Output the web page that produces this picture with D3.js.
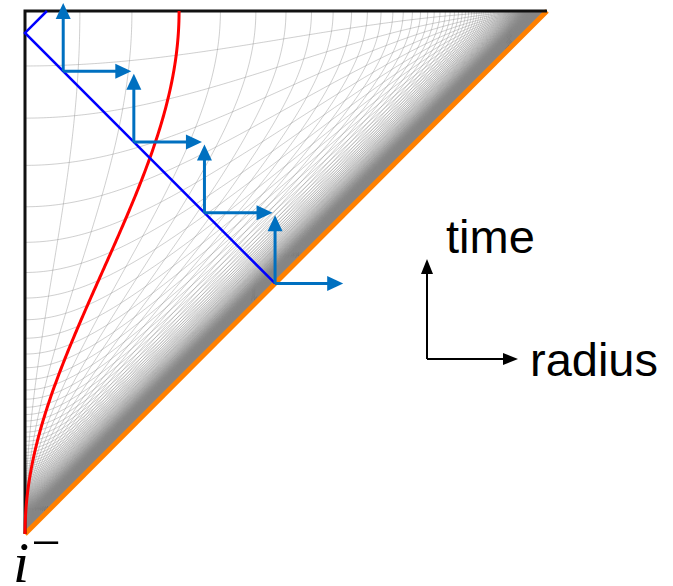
<!DOCTYPE html>
<head>
  <meta charset="utf-8" />
  <script src="https://d3js.org/d3.v7.min.js"></script>
  <style>
    body {
      margin: 0;
      background: #fff;
    }
  </style>
</head>

<body>
  <script>
    var width = 673,
      height = 586;

    // grid of conformal time eta (< 0) and comoving radius r
    const gridStep = 1 / 6;
    const gridCount = 360;
    // red comoving worldline
    const worldlineR = 0.5;
    // blue light ray: reaches r = 0 at this eta
    const rayEta = -0.066;
    // local frames along the ray (Penrose R of each corner) and arrow length
    const frameR = [0.23, 0.655, 1.08, 1.505];
    const frameLen = 0.41;
    const legendLabels = ["time", "radius"];

    var svg = d3
      .select("body")
      .append("svg")
      .attr("width", width)
      .attr("height", height);

    var x = d3.scaleLinear().domain([0, Math.PI]).range([25, 547]);
    var y = d3.scaleLinear().domain([-Math.PI, 0]).range([534, 11]);

    var line = d3
      .line()
      .x((d) => x(d[0]))
      .y((d) => y(d[1]));

    // null coords -> Penrose (R, T)
    function fromUV(U, V) {
      return [V - U, V + U];
    }

    var nSamples = 200;

    // curve of constant r, from i- up to eta = 0
    function rCurve(r) {
      var pts = [[0, -Math.PI]];
      var vTop = Math.atan(r);
      for (var i = 1; i <= nSamples; i++) {
        var V = -Math.PI / 2 + (i / nSamples) * (vTop + Math.PI / 2);
        var u = Math.tan(V) - 2 * r;
        pts.push(fromUV(Math.atan(u), V));
      }
      return pts;
    }

    // curve of constant eta, from r = 0 out to i0
    function etaCurve(eta) {
      var pts = [];
      var v0 = Math.atan(eta);
      for (var i = 0; i < nSamples; i++) {
        var V = v0 + (i / nSamples) * (Math.PI / 2 - v0);
        var u = 2 * eta - Math.tan(V);
        pts.push(fromUV(Math.atan(u), V));
      }
      pts.push([Math.PI, 0]);
      return pts;
    }

    var levels = d3.range(1, gridCount + 1).map((k) => k * gridStep);

    var grid = svg
      .append("g")
      .attr("fill", "none")
      .attr("stroke", "#878787")
      .attr("stroke-width", 0.4);

    grid
      .selectAll(".rline")
      .data(levels)
      .join("path")
      .attr("class", "rline")
      .attr("d", (d) => line(rCurve(d)));

    grid
      .selectAll(".tline")
      .data(levels)
      .join("path")
      .attr("class", "tline")
      .attr("d", (d) => line(etaCurve(-d)));

    // past boundary
    svg
      .append("path")
      .attr("d", line([[0, -Math.PI], [Math.PI, 0]]))
      .attr("stroke", "#ff8000")
      .attr("stroke-width", 5)
      .attr("fill", "none");

    // r = 0 and future boundary
    svg
      .append("path")
      .attr("d", line([[Math.PI, 0], [0, 0], [0, -Math.PI]]))
      .attr("stroke", "#111")
      .attr("stroke-width", 3)
      .attr("fill", "none");

    // comoving worldline
    svg
      .append("path")
      .attr("d", line(rCurve(worldlineR)))
      .attr("stroke", "#ff0000")
      .attr("stroke-width", 3)
      .attr("fill", "none");

    // light ray: ingoing from the past boundary, bouncing at r = 0
    var a = Math.atan(rayEta);
    var ray = [
      [Math.PI / 2 + a, a - Math.PI / 2],
      [0, 2 * a],
      [-2 * a, 0]
    ];
    svg
      .append("path")
      .attr("d", line(ray))
      .attr("stroke", "#0000ff")
      .attr("stroke-width", 2.5)
      .attr("fill", "none");

    function arrow(g, x1, y1, x2, y2, color, w, headLen, headW) {
      var dx = x2 - x1,
        dy = y2 - y1,
        len = Math.sqrt(dx * dx + dy * dy);
      var ux = dx / len,
        uy = dy / len;
      var bx = x2 - ux * headLen,
        by = y2 - uy * headLen;
      g.append("line")
        .attr("x1", x1)
        .attr("y1", y1)
        .attr("x2", bx + ux)
        .attr("y2", by + uy)
        .attr("stroke", color)
        .attr("stroke-width", w);
      g.append("path")
        .attr(
          "d",
          "M" + x2 + "," + y2 +
            "L" + (bx - uy * headW / 2) + "," + (by + ux * headW / 2) +
            "L" + (bx + uy * headW / 2) + "," + (by - ux * headW / 2) + "Z"
        )
        .attr("fill", color);
    }

    // local time / radius frames along the ray
    var frames = svg.append("g");
    frameR.forEach(function (R) {
      var T = 2 * a - R;
      arrow(frames, x(R), y(T), x(R), y(T + frameLen), "#0070c0", 3, 16, 15);
      arrow(frames, x(R), y(T), x(R + frameLen), y(T), "#0070c0", 3, 16, 15);
    });

    // legend
    var legend = svg.append("g");
    arrow(legend, 427, 359, 427, 259, "#000", 2, 15, 12);
    arrow(legend, 427, 359, 518, 359, "#000", 2, 15, 12);
    legend
      .selectAll("text")
      .data(legendLabels)
      .join("text")
      .attr("x", (d, i) => (i == 0 ? 446 : 530))
      .attr("y", (d, i) => (i == 0 ? 253 : 376))
      .attr("font-family", "Liberation Sans, Arial, sans-serif")
      .attr("font-size", 47)
      .attr("fill", "#000")
      .text((d) => d);

    // i^- label
    var lab = svg
      .append("text")
      .attr("x", 13)
      .attr("y", 582)
      .attr("font-family", "Liberation Serif, Times New Roman, serif")
      .attr("fill", "#000");
    lab.append("tspan").attr("font-style", "italic").attr("font-size", 58).text("i");
    lab
      .append("tspan")
      .attr("font-size", 52)
      .attr("dx", 2)
      .attr("dy", -22)
      .text("\u2212");
  </script>
</body>
